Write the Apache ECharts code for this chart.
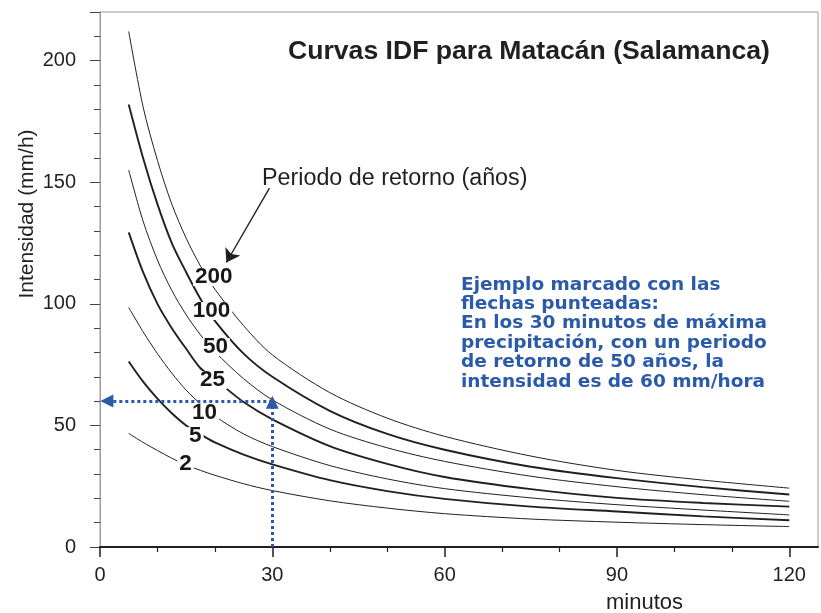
<!DOCTYPE html>
<html>
<head>
<meta charset="utf-8">
<script src="https://cdn.jsdelivr.net/npm/echarts/dist/echarts.min.js"></script>
<style>
html,body{margin:0;padding:0;background:#fff;}
#chart{width:821px;height:613px;}
</style>
</head>
<body>
<div id="chart"></div>
<script>
// Duration (minutes) sampled along each curve
const minutes = [5, 7.5, 10, 12.5, 15, 17.5, 20, 25, 30, 40, 50, 60, 75, 90, 105, 120];
// Intensity (mm/h) per return period (years)
const T200 = [212, 181, 159, 141, 127, 115.5, 106, 91, 79, 63.5, 53, 45.5, 37.4, 31.5, 27.5, 24.2];
const T100 = [182, 160, 141, 125, 113, 102, 93, 79.5, 70, 56, 46.5, 40, 33, 28.3, 24.6, 21.6];
const T50  = [155, 134, 118, 105.5, 95.5, 87.2, 80.3, 69.2, 60.5, 48.5, 40.8, 35.2, 29.1, 24.8, 21.5, 18.8];
const T25  = [129.4, 113, 100, 90, 81.5, 73.5, 69, 59.6, 52.5, 41.5, 34.2, 28.8, 23.8, 20.2, 18.1, 16.6];
const T10  = [98.5, 88.5, 79.5, 71.5, 64.5, 58.8, 53.8, 46.5, 41.3, 33.5, 28, 24, 20.2, 17.4, 15.2, 13.2];
const T5   = [76.3, 68, 61, 55, 50, 46.3, 43, 38, 34, 27.5, 23, 19.8, 16.6, 14.6, 12.6, 11.0];
const T2   = [46.7, 43, 39.7, 36.5, 33.7, 31.5, 29.5, 26, 23.2, 19, 16, 13.7, 11.5, 10.2, 9.2, 8.4];

const periods = ['200', '100', '50', '25', '10', '5', '2'];
const curves = [T200, T100, T50, T25, T10, T5, T2];
const thick = [false, true, false, true, false, true, false];

// Curve label anchor points (minutes, mm/h)
const labelT = [19.8, 19.4, 20.1, 19.6, 18.2, 16.6, 14.9];
const labelV = [111, 97, 82.2, 68.6, 55.3, 45.6, 34.1];

// Axis ticks
const xMajor = [0, 30, 60, 90, 120];
const xMinor = [10, 20, 40, 50, 70, 80, 100, 110];
const yMajorLabels = [0, 50, 100, 150, 200];
const yMajorTicks = [0, 50, 100, 150, 200, 220];
const yMinor = [10, 20, 30, 40, 60, 70, 80, 90, 110, 120, 130, 140, 160, 170, 180, 190, 210];

// Example: 30 min, 50 years -> 60 mm/h
const exampleT = 30;
const exampleV = 60;

const ink = '#231f20';
const blue = '#2a5aa8';
const font = '"Liberation Sans", Arial, Helvetica, sans-serif';

const chart = echarts.init(document.getElementById('chart'), null, {renderer: 'canvas'});

const series = curves.map((vals, i) => ({
  name: periods[i],
  type: 'line',
  xAxisIndex: 0, yAxisIndex: 0,
  data: minutes.map((m, j) => [m, vals[j]]),
  smooth: 0.3,
  showSymbol: false,
  silent: true,
  z: 2,
  lineStyle: {color: ink, width: thick[i] ? 1.9 : 1.0}
}));

series.push({
  type: 'scatter',
  xAxisIndex: 0, yAxisIndex: 0,
  symbolSize: 0,
  silent: true,
  z: 5,
  itemStyle: {opacity: 1},
  data: periods.map((p, i) => [labelT[i], labelV[i], p]),
  label: {
    show: true,
    position: 'inside',
    formatter: (p) => p.value[2],
    fontFamily: font,
    fontWeight: 'bold',
    fontSize: 22.5,
    lineHeight: 18,
    color: '#1a1718',
    opacity: 1,
    backgroundColor: '#fff',
    padding: [0, 2, 0, 2]
  }
});

// Black arrow pointing to the 200 label
series.push({
  type: 'line', data: [], silent: true, z: 6,
  markLine: {
    silent: true, animation: false,
    symbol: ['none', 'arrow'], symbolSize: 13,
    label: {show: false},
    lineStyle: {color: ink, width: 1.4, type: 'solid'},
    data: [[{coord: [29.5, 147.6]}, {coord: [22.0, 117.0]}]]
  }
});

// Blue dotted example arrows
series.push({
  type: 'line', data: [], silent: true, z: 7,
  markLine: {
    silent: true, animation: false,
    symbol: ['none', 'triangle'], symbolSize: 13,
    label: {show: false},
    lineStyle: {color: blue, width: 3, type: [3, 3]},
    data: [
      [{coord: [exampleT, exampleV]}, {coord: [1.2, exampleV]}],
      [{coord: [exampleT, 0]}, {coord: [exampleT, exampleV - 0.5]}]
    ]
  }
});

const option = {
  animation: false,
  backgroundColor: '#fff',
  grid: {left: 100, right: 3, top: 12, bottom: 66, show: true, borderColor: '#9a9a9a', borderWidth: 1},
  xAxis: [
    {
      type: 'value', min: 0, max: 125, position: 'bottom',
      axisLine: {show: true, lineStyle: {color: ink, width: 2}},
      axisTick: {show: true, customValues: xMajor, length: 10, lineStyle: {color: ink, width: 1.5}},
      axisLabel: {show: true, customValues: xMajor, fontFamily: font, fontSize: 20, color: ink, margin: 18},
      splitLine: {show: false}
    },
    {
      type: 'value', min: 0, max: 125, position: 'bottom', gridIndex: 0,
      axisLine: {show: false},
      axisTick: {show: true, customValues: xMinor, length: 5, lineStyle: {color: ink, width: 1.2}},
      axisLabel: {show: false},
      splitLine: {show: false}
    }
  ],
  yAxis: [
    {
      type: 'value', min: 0, max: 220, position: 'left',
      axisLine: {show: true, lineStyle: {color: '#9a9a9a', width: 1}},
      axisTick: {show: true, customValues: yMajorTicks, length: 10, lineStyle: {color: '#444', width: 1}},
      axisLabel: {show: true, customValues: yMajorLabels, fontFamily: font, fontSize: 20, color: ink, margin: 24},
      splitLine: {show: false}
    },
    {
      type: 'value', min: 0, max: 220, position: 'left', gridIndex: 0,
      axisLine: {show: false},
      axisTick: {show: true, customValues: yMinor, length: 6, lineStyle: {color: '#444', width: 1}},
      axisLabel: {show: false},
      splitLine: {show: false}
    }
  ],
  series: series,
  graphic: [
    {type: 'text', x: 288, y: 52, silent: true,
     style: {text: 'Curvas IDF para Matacán (Salamanca)', font: 'bold 26.6px ' + font, fill: ink, textVerticalAlign: 'middle'}},
    {type: 'text', x: 262, y: 179, silent: true,
     style: {text: 'Periodo de retorno (años)', font: '23.3px ' + font, fill: ink, textVerticalAlign: 'middle'}},
    {type: 'text', x: 461, y: 275, silent: true,
     style: {text: 'Ejemplo marcado con las\nflechas punteadas:\nEn los 30 minutos de máxima\nprecipitación, con un periodo\nde retorno de 50 años, la\nintensidad es de 60 mm/hora',
             font: 'bold 18.5px "DejaVu Sans", sans-serif', lineHeight: 19.4, fill: blue, textVerticalAlign: 'top'}},
    {type: 'text', x: 27, y: 214, rotation: Math.PI / 2, silent: true,
     style: {text: 'Intensidad (mm/h)', font: '21px ' + font, fill: ink, textAlign: 'center', textVerticalAlign: 'middle'}},
    {type: 'text', x: 606, y: 603, silent: true,
     style: {text: 'minutos', font: '22px ' + font, fill: ink, textVerticalAlign: 'middle'}}
  ]
};

chart.setOption(option);
</script>
</body>
</html>
